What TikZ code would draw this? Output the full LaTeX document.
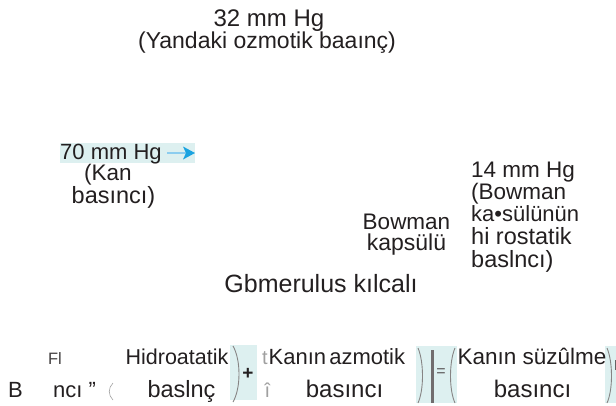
\documentclass[tikz,border=0pt]{standalone}
\usepackage{fontspec}
\setmainfont{Liberation Sans}
\definecolor{ink}{HTML}{231F20}
\definecolor{pale}{HTML}{A0A0A0}
\definecolor{tint}{HTML}{DDF0F0}
\definecolor{arrowlight}{HTML}{8CCDEF}
\definecolor{arrowdark}{HTML}{1BA3E0}
\tikzset{
  lab/.style={inner sep=0pt, text=ink, font=\fontsize{#1}{#1}\selectfont},
  lab/.default=22,
  small/.style={inner sep=0pt, text=ink!85, font=\fontsize{16.5}{16.5}\selectfont},
  faint/.style={inner sep=0pt, text=pale, font=\fontsize{20}{20}\selectfont},
  band/.style={fill=tint, draw=none},
  paren/.style={draw=ink!55, line width=0.9pt},
}
\begin{document}
\begin{tikzpicture}[x=1pt,y=-1pt]
\useasboundingbox (0,0) rectangle (616,405);

% top label: oncotic pressure
\node[lab=24, anchor=base] (p32) at (269,26) {32 mm Hg};
\node[lab=23, anchor=base] (pyan) at (267,48) {(Yandaki ozmotik baaınç)};

% blood pressure label with arrow
\fill[band] (60,143) rectangle (195,163);
\node[lab=22, anchor=base west] (p70) at (60,159) {70 mm Hg};
\coordinate (arrS) at (167,153);
\coordinate (arrE) at (195,153);
\draw[arrowlight, line width=2.4pt] (arrS) -- (186,153);
\fill[arrowdark] (183,146.5) -- (arrE) -- (183,159.5) -- (186,153) -- cycle;
\node[lab=22.5, anchor=base] (kan1) at (108,180) {(Kan};
\node[lab=23.5, anchor=base] (kan2) at (113.5,203) {basıncı)};

% capsule hydrostatic pressure
\node[lab=22.5, anchor=base west] (b1) at (471,177) {14 mm Hg};
\node[lab=22.5, anchor=base west] (b2) at (471,199) {(Bowman};
\node[lab=22, anchor=base west] (b3) at (471,221) {ka•sülünün};
\node[lab=23.5, anchor=base west] (b4) at (471,244) {hi rostatik};
\node[lab=23.5, anchor=base west] (b5) at (471,267) {baslncı)};

\node[lab=22.5, anchor=base] (cap1) at (406.5,229) {Bowman};
\node[lab=23, anchor=base] (cap2) at (406.5,250) {kapsülü};

\node[lab=25, anchor=base] (glom) at (321,292) {Gbmerulus kılcalı};

% equation row
\fill[band] (230,345) rectangle (257,400);
\fill[band] (416,346) rectangle (457,403);
\fill[band] (605,346) rectangle (616,403);

\node[small, anchor=base] (fl) at (55,364) {Fl};
\node[lab=22, anchor=base west] (eqB) at (8,397) {B};
\node[lab=22, anchor=base west] (eqn) at (53,397) {ncı "};
\draw[draw=pale, line width=0.6pt] (113,383) .. controls (108,388) and (108,395) .. (113,400);
\node[lab=21.5, anchor=base] (h1) at (177,364) {Hidroatatik};
\node[lab=23.5, anchor=base] (h2) at (181.5,397) {baslnç};

\draw[paren] (233,346) .. controls (241,360) and (241,388) .. (233,402);
\node[inner sep=0pt, text=ink, font=\fontsize{19}{19}\selectfont\bfseries] (plus) at (248,374) {+};

\node[faint, anchor=base west] (ft) at (262,364) {t};
\node[faint, anchor=base west] (fi) at (264.5,397) {î};
\node[lab=22, anchor=base west] (k1) at (268.5,364) {Kanın\hspace{-3pt} azmotik};
\node[lab=24, anchor=base] (k2) at (344.5,397) {basıncı};

\draw[paren] (418,348) .. controls (424,362) and (424,390) .. (418,403);
\draw[ink!65, line width=2.6pt] (432.5,350) -- (432.5,403);
\node[inner sep=0pt, text=ink!75, font=\fontsize{16}{16}\selectfont] (eq) at (441,373) {=};
\draw[paren] (455,348) .. controls (449,362) and (449,390) .. (455,403);

\node[lab=22.5, anchor=base] (s1) at (532,364) {Kanın süzûlme};
\node[lab=24, anchor=base] (s2) at (532.5,397) {basıncı};

\draw[paren] (607,348) .. controls (613,362) and (613,390) .. (607,403);
\draw[ink!70, line width=1pt] (615.5,360) -- (615.5,370);
\end{tikzpicture}
\end{document}
